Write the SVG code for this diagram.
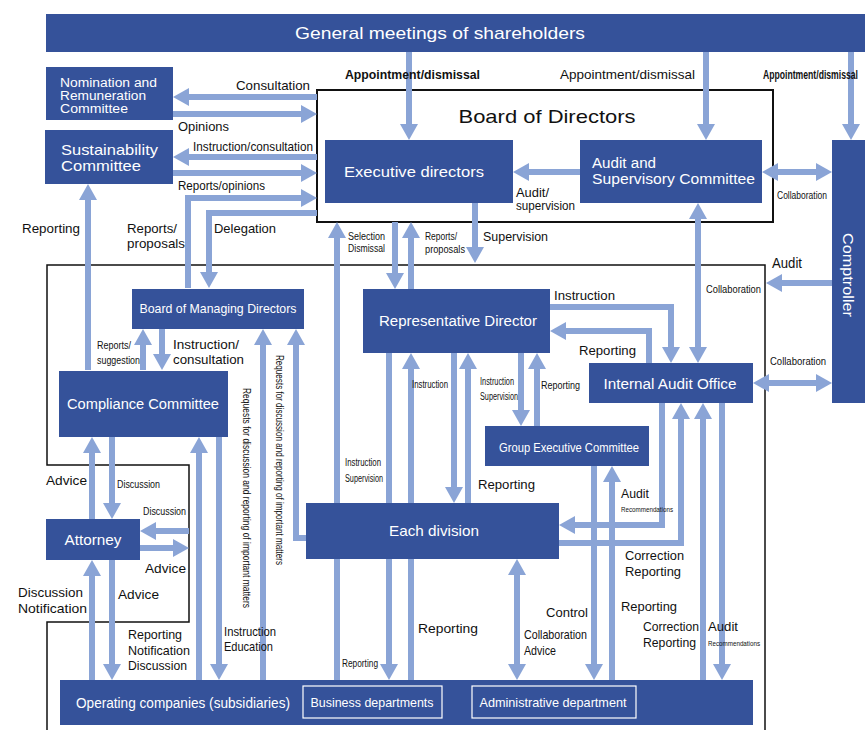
<svg xmlns="http://www.w3.org/2000/svg" width="865" height="730" viewBox="0 0 865 730">
<style>
text{font-family:"Liberation Sans",Arial,sans-serif;}
.lbl{font-size:13px;fill:#111;}
.sm{font-size:10px;fill:#111;}
.xs{font-size:8px;fill:#111;}
.nt{fill:#fff;font-size:14px;}
.box{fill:#35529a;}
.cn path{fill:none;stroke:#8aa4d6;stroke-width:6;}
.frame{fill:none;stroke:#111;}
</style>
<defs>
<marker id="ah" viewBox="0 0 16 18" refX="0" refY="9" markerWidth="16" markerHeight="18" markerUnits="userSpaceOnUse" orient="auto-start-reverse"><path d="M0,0 L16,9 L0,18 z" fill="#8aa4d6"/></marker>
</defs>
<rect width="865" height="730" fill="#fff"/>

<!-- frames -->
<rect class="frame" x="317" y="90" width="456" height="132" stroke-width="2"/>
<path class="frame" d="M47,730 V622 H189 V465 H47 V265 H765 V730" stroke-width="1.5"/>

<!-- connectors -->
<g id="connectors" class="cn">
<path d="M409,52 V124" marker-end="url(#ah)"/>
<path d="M706,52 V124" marker-end="url(#ah)"/>
<path d="M851,52 V124" marker-end="url(#ah)"/>
<path d="M317,97 H189" marker-end="url(#ah)"/>
<path d="M173,114 H301" marker-end="url(#ah)"/>
<path d="M317,157 H189" marker-end="url(#ah)"/>
<path d="M173,173 H301" marker-end="url(#ah)"/>
<path d="M188,288 V198 H301" marker-end="url(#ah)"/>
<path d="M317,213 H209 V272" marker-end="url(#ah)"/>
<path d="M88,370 V200" marker-end="url(#ah)"/>
<path d="M580,172 H529" marker-end="url(#ah)"/>
<path d="M778,172 H816" marker-start="url(#ah)" marker-end="url(#ah)"/>
<path d="M832,283 H782" marker-end="url(#ah)"/>
<path d="M769,383 H816" marker-start="url(#ah)" marker-end="url(#ah)"/>
<path d="M698,219 V347" marker-start="url(#ah)" marker-end="url(#ah)"/>
<path d="M475,203 V247" marker-end="url(#ah)"/>
<path d="M337,680 V238" marker-end="url(#ah)"/>
<path d="M395,222 V273" marker-end="url(#ah)"/>
<path d="M411,289 V238" marker-end="url(#ah)"/>
<path d="M389,353 V664" marker-end="url(#ah)"/>
<path d="M411,680 V369" marker-end="url(#ah)"/>
<path d="M454,353 V487" marker-end="url(#ah)"/>
<path d="M468,503 V369" marker-end="url(#ah)"/>
<path d="M521,353 V410" marker-end="url(#ah)"/>
<path d="M537,426 V369" marker-end="url(#ah)"/>
<path d="M550,307 H671 V347" marker-end="url(#ah)"/>
<path d="M649,363 V331 H566" marker-end="url(#ah)"/>
<path d="M662,403 V525 H575" marker-end="url(#ah)"/>
<path d="M559,543 H681 V419" marker-end="url(#ah)"/>
<path d="M703,680 V419" marker-end="url(#ah)"/>
<path d="M722,403 V664" marker-end="url(#ah)"/>
<path d="M594,466 V664" marker-end="url(#ah)"/>
<path d="M612,680 V482" marker-end="url(#ah)"/>
<path d="M517,575 V664" marker-start="url(#ah)" marker-end="url(#ah)"/>
<path d="M263,680 V345" marker-end="url(#ah)"/>
<path d="M306,538 H296 V345" marker-end="url(#ah)"/>
<path d="M143,370 V345" marker-end="url(#ah)"/>
<path d="M162,329 V354" marker-end="url(#ah)"/>
<path d="M92,519 V453" marker-end="url(#ah)"/>
<path d="M112,437 V503" marker-end="url(#ah)"/>
<path d="M199,680 V453" marker-end="url(#ah)"/>
<path d="M219,437 V664" marker-end="url(#ah)"/>
<path d="M189,531 H156" marker-end="url(#ah)"/>
<path d="M140,548 H173" marker-end="url(#ah)"/>
<path d="M92,680 V576" marker-end="url(#ah)"/>
<path d="M112,560 V664" marker-end="url(#ah)"/>
</g>

<!-- nodes -->
<g id="shareholders"><rect class="box" x="46" y="14" width="819" height="38"/><text class="nt" x="440" y="39" text-anchor="middle" style="font-size:17px" textLength="290" lengthAdjust="spacingAndGlyphs">General meetings of shareholders</text></g>
<g id="nomination"><rect class="box" x="46" y="67" width="127" height="53"/><text class="nt" style="font-size:12.5px" x="60" y="87" textLength="97" lengthAdjust="spacingAndGlyphs">Nomination and</text><text class="nt" style="font-size:12.5px" x="60" y="100" textLength="86" lengthAdjust="spacingAndGlyphs">Remuneration</text><text class="nt" style="font-size:12.5px" x="60" y="113" textLength="68" lengthAdjust="spacingAndGlyphs">Committee</text></g>
<g id="sustainability"><rect class="box" x="45" y="130" width="128" height="54"/><text class="nt" style="font-size:15px" x="61" y="155" textLength="97" lengthAdjust="spacingAndGlyphs">Sustainability</text><text class="nt" style="font-size:15px" x="61" y="171" textLength="80" lengthAdjust="spacingAndGlyphs">Committee</text></g>
<g id="board"><text x="547" y="123" text-anchor="middle" style="font-size:19px;fill:#111" textLength="177" lengthAdjust="spacingAndGlyphs">Board of Directors</text></g>
<g id="executive"><rect class="box" x="325" y="140" width="188" height="63"/><text class="nt" style="font-size:15px" x="414" y="177" text-anchor="middle" textLength="140" lengthAdjust="spacingAndGlyphs">Executive directors</text></g>
<g id="asc"><rect class="box" x="580" y="140" width="182" height="63"/><text class="nt" x="592" y="168" textLength="64" lengthAdjust="spacingAndGlyphs">Audit and</text><text class="nt" x="592" y="184" textLength="163" lengthAdjust="spacingAndGlyphs">Supervisory Committee</text></g>
<g id="comptroller"><rect class="box" x="832" y="140" width="40" height="263"/><text class="nt" style="font-size:15px" transform="translate(843,275) rotate(90)" text-anchor="middle" textLength="84" lengthAdjust="spacingAndGlyphs">Comptroller</text></g>
<g id="bmd"><rect class="box" x="132" y="289" width="172" height="40"/><text class="nt" style="font-size:13px" x="218" y="313" text-anchor="middle" textLength="157" lengthAdjust="spacingAndGlyphs">Board of Managing Directors</text></g>
<g id="compliance"><rect class="box" x="59" y="371" width="169" height="66"/><text class="nt" x="143" y="409" text-anchor="middle" textLength="152" lengthAdjust="spacingAndGlyphs">Compliance Committee</text></g>
<g id="attorney"><rect class="box" x="46" y="519" width="94" height="41"/><text class="nt" x="93" y="545" text-anchor="middle" textLength="57" lengthAdjust="spacingAndGlyphs">Attorney</text></g>
<g id="rep"><rect class="box" x="363" y="289" width="187" height="64"/><text class="nt" x="458" y="326" text-anchor="middle" textLength="158" lengthAdjust="spacingAndGlyphs">Representative Director</text></g>
<g id="gec"><rect class="box" x="485" y="426" width="164" height="40"/><text class="nt" style="font-size:13px" x="569" y="452" text-anchor="middle" textLength="140" lengthAdjust="spacingAndGlyphs">Group Executive Committee</text></g>
<g id="iao"><rect class="box" x="589" y="363" width="164" height="40"/><text class="nt" x="670" y="389" text-anchor="middle" textLength="133" lengthAdjust="spacingAndGlyphs">Internal Audit Office</text></g>
<g id="division"><rect class="box" x="306" y="503" width="253" height="56"/><text class="nt" style="font-size:15px" x="434" y="536" text-anchor="middle" textLength="90" lengthAdjust="spacingAndGlyphs">Each division</text></g>
<g id="operating"><rect class="box" x="60" y="680" width="693" height="45"/><text class="nt" x="76" y="708" textLength="214" lengthAdjust="spacingAndGlyphs">Operating companies (subsidiaries)</text>
<rect x="303" y="686" width="139" height="32" fill="none" stroke="#fff" stroke-width="1.2"/><text class="nt" style="font-size:13px" x="372" y="707" text-anchor="middle" textLength="123" lengthAdjust="spacingAndGlyphs">Business departments</text>
<rect x="472" y="686" width="164" height="32" fill="none" stroke="#fff" stroke-width="1.2"/><text class="nt" style="font-size:13px" x="553" y="707" text-anchor="middle" textLength="147" lengthAdjust="spacingAndGlyphs">Administrative department</text></g>

<!-- labels -->
<g id="labels">
<text class="lbl" x="345" y="79" font-weight="bold" textLength="135" lengthAdjust="spacingAndGlyphs">Appointment/dismissal</text>
<text class="lbl" x="560" y="79" textLength="135" lengthAdjust="spacingAndGlyphs">Appointment/dismissal</text>
<text class="lbl" style="font-size:12px" x="858" y="79" text-anchor="end" font-weight="bold" textLength="95" lengthAdjust="spacingAndGlyphs">Appointment/dismissal</text>
<text class="lbl" x="236" y="90" textLength="74" lengthAdjust="spacingAndGlyphs">Consultation</text>
<text class="lbl" x="178" y="131" textLength="51" lengthAdjust="spacingAndGlyphs">Opinions</text>
<text class="lbl" x="193" y="151" textLength="120" lengthAdjust="spacingAndGlyphs">Instruction/consultation</text>
<text class="lbl" x="178" y="190" textLength="87" lengthAdjust="spacingAndGlyphs">Reports/opinions</text>
<text class="lbl" x="22" y="233" textLength="58" lengthAdjust="spacingAndGlyphs">Reporting</text>
<text class="lbl" x="127" y="233" textLength="50" lengthAdjust="spacingAndGlyphs">Reports/</text>
<text class="lbl" x="127" y="248" textLength="58" lengthAdjust="spacingAndGlyphs">proposals</text>
<text class="lbl" x="214" y="233" textLength="62" lengthAdjust="spacingAndGlyphs">Delegation</text>
<text class="lbl" style="font-size:12px" x="516" y="197" textLength="33" lengthAdjust="spacingAndGlyphs">Audit/</text>
<text class="lbl" style="font-size:12px" x="516" y="210" textLength="59" lengthAdjust="spacingAndGlyphs">supervision</text>
<text class="sm" x="777" y="199" textLength="50" lengthAdjust="spacingAndGlyphs">Collaboration</text>
<text class="sm" x="348" y="240" textLength="37" lengthAdjust="spacingAndGlyphs">Selection</text>
<text class="sm" x="348" y="252" textLength="37" lengthAdjust="spacingAndGlyphs">Dismissal</text>
<text class="sm" x="425" y="240" textLength="32" lengthAdjust="spacingAndGlyphs">Reports/</text>
<text class="sm" x="425" y="253" textLength="40" lengthAdjust="spacingAndGlyphs">proposals</text>
<text class="lbl" x="483" y="241" textLength="65" lengthAdjust="spacingAndGlyphs">Supervision</text>
<text class="lbl" style="font-size:14px" x="772" y="268" textLength="30" lengthAdjust="spacingAndGlyphs">Audit</text>
<text class="sm" style="font-size:11px" x="706" y="293" textLength="55" lengthAdjust="spacingAndGlyphs">Collaboration</text>
<text class="lbl" x="554" y="300" textLength="61" lengthAdjust="spacingAndGlyphs">Instruction</text>
<text class="lbl" x="579" y="355" textLength="57" lengthAdjust="spacingAndGlyphs">Reporting</text>
<text class="sm" style="font-size:11px" x="770" y="365" textLength="56" lengthAdjust="spacingAndGlyphs">Collaboration</text>
<text class="sm" x="97" y="349" textLength="34" lengthAdjust="spacingAndGlyphs">Reports/</text>
<text class="sm" x="97" y="364" textLength="43" lengthAdjust="spacingAndGlyphs">suggestion</text>
<text class="lbl" x="173" y="349" textLength="66" lengthAdjust="spacingAndGlyphs">Instruction/</text>
<text class="lbl" x="173" y="364" textLength="71" lengthAdjust="spacingAndGlyphs">consultation</text>
<text class="sm" x="412" y="388" textLength="36" lengthAdjust="spacingAndGlyphs">Instruction</text>
<text class="sm" x="480" y="385" textLength="34" lengthAdjust="spacingAndGlyphs">Instruction</text>
<text class="sm" x="480" y="400" textLength="38" lengthAdjust="spacingAndGlyphs">Supervision</text>
<text class="sm" x="541" y="389" textLength="39" lengthAdjust="spacingAndGlyphs">Reporting</text>
<text class="sm" x="345" y="466" textLength="36" lengthAdjust="spacingAndGlyphs">Instruction</text>
<text class="sm" x="345" y="482" textLength="38" lengthAdjust="spacingAndGlyphs">Supervision</text>
<text class="lbl" x="478" y="489" textLength="57" lengthAdjust="spacingAndGlyphs">Reporting</text>
<text class="lbl" x="621" y="498" textLength="28" lengthAdjust="spacingAndGlyphs">Audit</text>
<text class="xs" x="621" y="512" textLength="52" lengthAdjust="spacingAndGlyphs">Recommendations</text>
<text class="lbl" x="625" y="560" textLength="59" lengthAdjust="spacingAndGlyphs">Correction</text>
<text class="lbl" x="625" y="576" textLength="56" lengthAdjust="spacingAndGlyphs">Reporting</text>
<text class="sm" transform="translate(243,498) rotate(90)" text-anchor="middle" textLength="220" lengthAdjust="spacingAndGlyphs">Requests for discussion and reporting of important matters</text>
<text class="sm" transform="translate(276,460) rotate(90)" text-anchor="middle" textLength="210" lengthAdjust="spacingAndGlyphs">Requests for discussion and reporting of important matters</text>
<text class="lbl" x="46" y="485" textLength="41" lengthAdjust="spacingAndGlyphs">Advice</text>
<text class="sm" x="117" y="488" textLength="43" lengthAdjust="spacingAndGlyphs">Discussion</text>
<text class="sm" x="143" y="515" textLength="43" lengthAdjust="spacingAndGlyphs">Discussion</text>
<text class="lbl" x="145" y="573" textLength="41" lengthAdjust="spacingAndGlyphs">Advice</text>
<text class="lbl" x="18" y="597" textLength="65" lengthAdjust="spacingAndGlyphs">Discussion</text>
<text class="lbl" x="18" y="613" textLength="69" lengthAdjust="spacingAndGlyphs">Notification</text>
<text class="lbl" x="118" y="599" textLength="41" lengthAdjust="spacingAndGlyphs">Advice</text>
<text class="lbl" x="128" y="639" textLength="54" lengthAdjust="spacingAndGlyphs">Reporting</text>
<text class="lbl" x="128" y="655" textLength="62" lengthAdjust="spacingAndGlyphs">Notification</text>
<text class="lbl" x="128" y="670" textLength="59" lengthAdjust="spacingAndGlyphs">Discussion</text>
<text class="lbl" x="224" y="636" textLength="52" lengthAdjust="spacingAndGlyphs">Instruction</text>
<text class="lbl" x="224" y="651" textLength="49" lengthAdjust="spacingAndGlyphs">Education</text>
<text class="sm" x="342" y="667" textLength="36" lengthAdjust="spacingAndGlyphs">Reporting</text>
<text class="lbl" x="418" y="633" textLength="60" lengthAdjust="spacingAndGlyphs">Reporting</text>
<text class="lbl" x="546" y="617" textLength="42" lengthAdjust="spacingAndGlyphs">Control</text>
<text class="lbl" x="524" y="639" textLength="63" lengthAdjust="spacingAndGlyphs">Collaboration</text>
<text class="lbl" x="524" y="655" textLength="32" lengthAdjust="spacingAndGlyphs">Advice</text>
<text class="lbl" x="621" y="611" textLength="56" lengthAdjust="spacingAndGlyphs">Reporting</text>
<text class="lbl" x="643" y="631" textLength="56" lengthAdjust="spacingAndGlyphs">Correction</text>
<text class="lbl" x="643" y="647" textLength="53" lengthAdjust="spacingAndGlyphs">Reporting</text>
<text class="lbl" x="708" y="631" textLength="30" lengthAdjust="spacingAndGlyphs">Audit</text>
<text class="xs" x="708" y="646" textLength="52" lengthAdjust="spacingAndGlyphs">Recommendations</text>
</g>
</svg>
